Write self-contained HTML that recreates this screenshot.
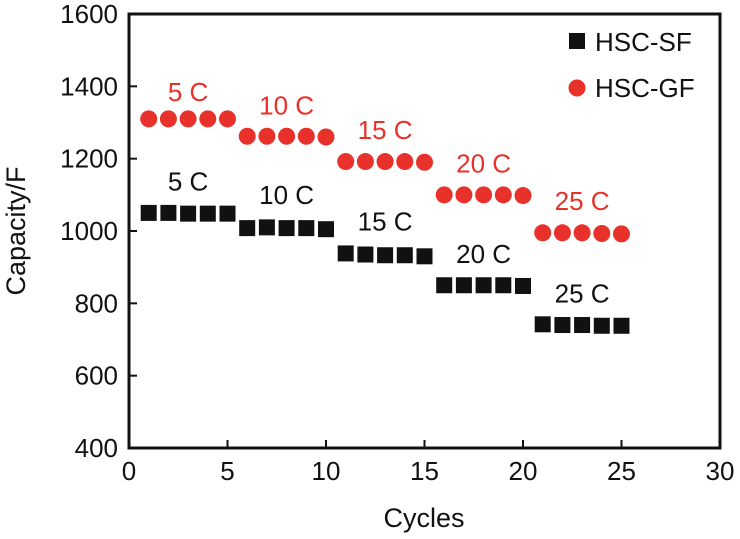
<!DOCTYPE html>
<html><head><meta charset="utf-8"><style>
body{margin:0;background:#fff;}
svg text{font-family:"Liberation Sans",Arial,sans-serif;}
</style></head><body>
<svg id="chart" width="740" height="534" viewBox="0 0 740 534" xmlns="http://www.w3.org/2000/svg">
<g id="marks"></g>
<g id="axes"></g>
</svg>
<script>
const cycles=[1,2,3,4,5,6,7,8,9,10,11,12,13,14,15,16,17,18,19,20,21,22,23,24,25];
const sfValues=[1050,1050,1048,1048,1048,1008,1010,1008,1008,1005,938,935,933,933,930,850,850,850,850,848,742,740,740,738,738];
const gfValues=[1310,1310,1310,1310,1310,1262,1262,1262,1262,1260,1192,1192,1192,1192,1190,1100,1100,1100,1100,1098,995,995,995,993,992];
const xTicks=[0,5,10,15,20,25,30];
const yTicks=[400,600,800,1000,1200,1400,1600];
const rateLabels=["5 C","10 C","15 C","20 C","25 C"];
const labelCycle=[3,8,13,18,23];
const sfLabelVal=[1112,1074,1002,912,802];
const gfLabelVal=[1360,1322,1254,1162,1058];
const L=129,R=720,T=14,B=448;
const xs=v=>L+(v-0)/30*(R-L);
const ys=v=>B-(v-400)/1200*(B-T);
const NS="http://www.w3.org/2000/svg";
function mk(tag,attrs,parent,txt){const e=document.createElementNS(NS,tag);for(const k in attrs)e.setAttribute(k,attrs[k]);if(txt!==undefined)e.textContent=txt;parent.appendChild(e);return e;}
const marks=document.getElementById('marks'),axes=document.getElementById('axes');
cycles.forEach((c,i)=>{
 const r=mk('rect',{x:xs(c)-8,y:ys(sfValues[i])-8,width:16,height:16,fill:'#111'},marks);
 
 
 const ci=mk('circle',{cx:xs(c),cy:ys(gfValues[i]),r:8.5,fill:'#e8312a'},marks);
 
 
});
rateLabels.forEach((t,i)=>{
 const a=mk('text',{x:xs(labelCycle[i]),y:ys(sfLabelVal[i]),'font-size':26,'text-anchor':'middle',fill:'#111'},marks,t);
 
 
 const b=mk('text',{x:xs(labelCycle[i]),y:ys(gfLabelVal[i]),'font-size':26,'text-anchor':'middle',fill:'#e8312a'},marks,t);
 
 
});
const frame=mk('rect',{x:L,y:T,width:R-L,height:B-T,fill:'none',stroke:'#111','stroke-width':3},axes);


xTicks.forEach(v=>{
 mk('line',{x1:xs(v),x2:xs(v),y1:B,y2:B-8,stroke:'#111','stroke-width':2},axes);
 const t=mk('text',{x:xs(v),y:B+32,'font-size':26,'text-anchor':'middle',fill:'#111'},axes,v);
 
 
});
yTicks.forEach(v=>{
 mk('line',{x1:L,x2:L+8,y1:ys(v),y2:ys(v),stroke:'#111','stroke-width':2},axes);
 const t=mk('text',{x:L-11,y:ys(v)+9,'font-size':26,'text-anchor':'end',fill:'#111'},axes,v);
 
 
});
const xt=mk('text',{x:424,y:527,'font-size':27,'text-anchor':'middle',fill:'#111'},axes,'Cycles');


const yt=mk('text',{x:0,y:0,'font-size':27,'text-anchor':'middle',fill:'#111',transform:`translate(25,${(T+B)/2}) rotate(-90)`},axes,'Capacity/F');


const lg=mk('g',{},axes);


mk('rect',{x:569,y:33,width:16,height:16,fill:'#111'},lg);
mk('text',{x:595,y:51,'font-size':26,fill:'#111'},lg,'HSC-SF');
mk('circle',{cx:577,cy:88,r:8.5,fill:'#e8312a'},lg);
mk('text',{x:595,y:97,'font-size':26,fill:'#111'},lg,'HSC-GF');
</script>
</body></html>
